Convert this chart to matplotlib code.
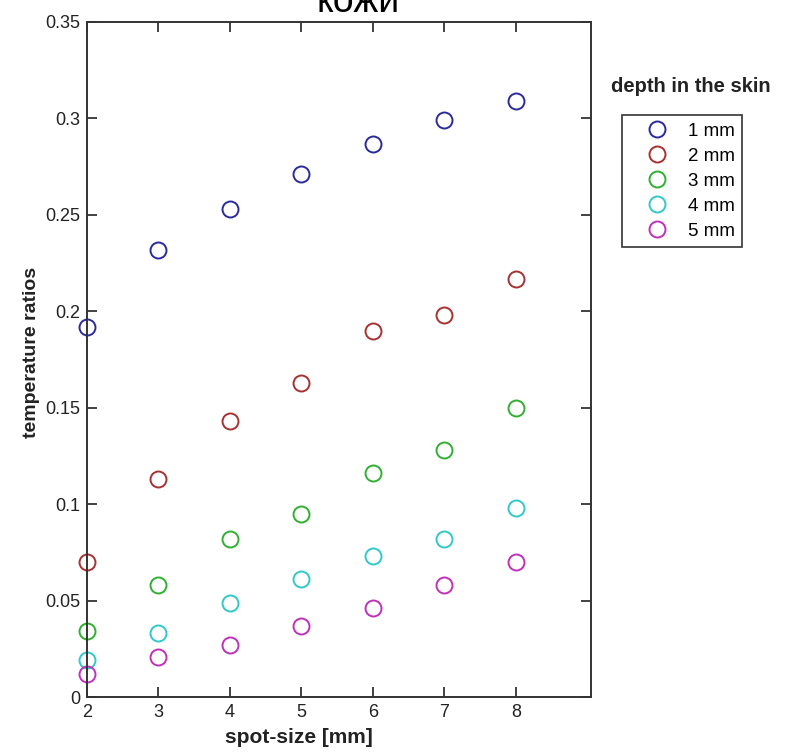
import matplotlib
matplotlib.use("Agg")
import matplotlib.pyplot as plt

plt.rcParams['font.family'] = ['Liberation Sans', 'DejaVu Sans']

spot_size = [2, 3, 4, 5, 6, 7, 8]
depth_labels = ['1 mm', '2 mm', '3 mm', '4 mm', '5 mm']
ratio_1mm = [0.192, 0.232, 0.253, 0.271, 0.287, 0.299, 0.309]
ratio_2mm = [0.070, 0.113, 0.143, 0.163, 0.190, 0.198, 0.217]
ratio_3mm = [0.034, 0.058, 0.082, 0.095, 0.116, 0.128, 0.150]
ratio_4mm = [0.019, 0.033, 0.049, 0.061, 0.073, 0.082, 0.098]
ratio_5mm = [0.012, 0.021, 0.027, 0.037, 0.046, 0.058, 0.070]
yticks = [0, 0.05, 0.1, 0.15, 0.2, 0.25, 0.3, 0.35]
ytick_labels = ['0', '0.05', '0.1', '0.15', '0.2', '0.25', '0.3', '0.35']

series = [ratio_1mm, ratio_2mm, ratio_3mm, ratio_4mm, ratio_5mm]
colors = ['#2a2a9c', '#a83030', '#30b030', '#30c8c8', '#c030b8']

fig = plt.figure(figsize=(7.87, 7.54), dpi=100)
ax = fig.add_axes([87/787, 1 - 697/754, (591 - 87)/787, (697 - 22)/754])

handles = []
for vals, c, lab in zip(series, colors, depth_labels):
    h, = ax.plot(spot_size, vals, linestyle='none', marker='o', markersize=11.5,
                 markerfacecolor='none', markeredgecolor=c, markeredgewidth=1.4,
                 label=lab, clip_on=False)
    handles.append(h)

ax.set_xlim(2, 9.05)
ax.set_ylim(0, 0.35)
ax.set_xticks(spot_size)
ax.set_yticks(yticks)
ax.set_yticklabels(ytick_labels)
ax.tick_params(direction='in', length=7, width=1.2, labelsize=13,
               top=True, right=True, colors='#222222', pad=5)
for s in ax.spines.values():
    s.set_linewidth(1.4)
    s.set_color('#333333')

ax.set_xlabel('spot-size [mm]', fontsize=15, fontweight='bold', color='#222222')
ax.xaxis.set_label_coords(0.42, -0.046)
ax.set_ylabel('temperature ratios', fontsize=14, fontweight='bold', color='#222222')
ax.yaxis.set_label_coords(-0.093, 0.51)

# title line, cut off at the top edge as in the original
fig.text(358/787, 1 - 12/754, 'кожи', fontsize=27, ha='center', va='baseline')

leg = fig.legend(handles=handles, loc='upper left',
                 bbox_to_anchor=(622/787, 1 - 115/754),
                 frameon=True, fancybox=False, edgecolor='black',
                 fontsize=13.5, handletextpad=0.2, borderpad=0.4,
                 labelspacing=0.42, handlelength=2.9, borderaxespad=0)
leg.get_frame().set_linewidth(1.2)
fig.text(691/787, 1 - 87/754, 'depth in the skin', fontsize=14.5,
         fontweight='bold', ha='center', va='center', color='#222222')

fig.savefig('out.png', dpi=100)
